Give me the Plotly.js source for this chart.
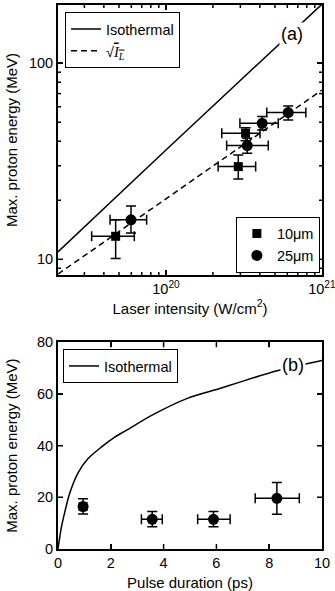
<!DOCTYPE html>
<html><head><meta charset="utf-8">
<script src="https://cdn.plot.ly/plotly-3.0.1.min.js"></script>
<style>html,body{margin:0;padding:0;background:#fff}#chart{width:335px;height:591px}</style>
</head><body><div id="chart"></div>
<script>
// ---------- Panel (a): energy vs laser intensity ----------
const sqI       = [4.76e19, 2.91e20, 3.24e20];
const sqIplus   = [1.51e19, 0.85e20, 0.77e20];
const sqIminus  = [1.42e19, 0.75e20, 0.96e20];
const sqE       = [13.1, 29.7, 44.0];
const sqEplus   = [2.8, 4.3, 2.9];
const sqEminus  = [3.0, 4.0, 3.8];

const ciI       = [5.97e19, 3.32e20, 4.14e20, 6.08e20];
const ciIplus   = [1.55e19, 1.21e20, 1.11e20, 1.81e20];
const ciIminus  = [1.59e19, 0.87e20, 1.16e20, 1.65e20];
const ciE       = [15.9, 38.0, 49.4, 56.0];
const ciEplus   = [2.8, 3.4, 4.1, 4.5];
const ciEminus  = [2.3, 3.3, 3.7, 4.6];

const isoAx = [2.03e19, 1e20, 1e21];
const isoAy = [10.9, 36.1, 200];
const sqrtAx = [2.03e19, 1e21];
const sqrtAy = [8.4, 73];

const xTickValsA = [1e20, 1e21];
const xTickTextA = ['10<sup>20</sup>', '10<sup>21</sup>'];
const xMinorA = [3e19,4e19,5e19,6e19,7e19,8e19,9e19,2e20,3e20,4e20,5e20,6e20,7e20,8e20,9e20];
const yTickValsA = [10, 100];
const yTickTextA = ['10', '100'];
const yMinorA = [9,20,30,40,50,60,70,80,90];

// ---------- Panel (b): energy vs pulse duration ----------
const tau       = [0.95, 3.57, 5.89, 8.29];
const tauPlus   = [0, 0.38, 0.63, 0.85];
const tauMinus  = [0, 0.41, 0.60, 0.82];
const eB        = [16.4, 11.5, 11.5, 19.6];
const eBplus    = [3.0, 3.0, 3.0, 6.1];
const eBminus   = [2.9, 2.9, 2.9, 6.2];

const isoBx = [0, 0.03, 0.13, 0.25, 0.44, 0.76, 1.14, 1.65, 2.15, 2.6, 3.6, 4.9, 6.1, 6.8, 8.3, 10];
const isoBy = [0, 2.2, 8.5, 14, 21.5, 29.5, 35, 39.5, 43.3, 46, 52, 58.3, 62, 64.3, 69, 73];
const xTickValsB = [2, 4, 6, 8];
const yTickValsB = [20, 40, 60];

const FONT = 'Liberation Sans, Arial, Helvetica, sans-serif';
const BLK = '#000';
const errStyle = {color: BLK, thickness: 1.5, width: 5};
const X_RANGE_A = [19.308, 21.0005];
const Y_RANGE_A = [0.92, 2.297];

const traces = [
  {x: isoAx, y: isoAy, xaxis: 'x', yaxis: 'y', mode: 'lines', name: 'Isothermal',
   line: {color: BLK, width: 1.5}, legend: 'legend'},
  {x: sqrtAx, y: sqrtAy, xaxis: 'x', yaxis: 'y', mode: 'lines',
   name: '√<span style="font-family:Liberation Serif;font-style:italic;text-decoration:overline">I<sub>L</sub></span>',
   line: {color: BLK, width: 1.5, dash: '6px,4px'}, legend: 'legend'},
  {x: sqI, y: sqE, xaxis: 'x', yaxis: 'y', mode: 'markers', name: '10μm', legend: 'legend2',
   marker: {symbol: 'square', size: 9, color: BLK},
   error_x: Object.assign({type: 'data', symmetric: false, array: sqIplus, arrayminus: sqIminus}, errStyle),
   error_y: Object.assign({type: 'data', symmetric: false, array: sqEplus, arrayminus: sqEminus}, errStyle)},
  {x: ciI, y: ciE, xaxis: 'x', yaxis: 'y', mode: 'markers', name: '25μm', legend: 'legend2',
   marker: {symbol: 'circle', size: 11, color: BLK},
   error_x: Object.assign({type: 'data', symmetric: false, array: ciIplus, arrayminus: ciIminus}, errStyle),
   error_y: Object.assign({type: 'data', symmetric: false, array: ciEplus, arrayminus: ciEminus}, errStyle)},

  {x: isoBx, y: isoBy, xaxis: 'x2', yaxis: 'y2', mode: 'lines', name: 'Isothermal', legend: 'legend3',
   line: {color: BLK, width: 1.5, shape: 'spline', smoothing: 0.8}},
  {x: tau, y: eB, xaxis: 'x2', yaxis: 'y2', mode: 'markers', showlegend: false,
   marker: {symbol: 'circle', size: 11, color: BLK},
   error_x: Object.assign({type: 'data', symmetric: false, array: tauPlus, arrayminus: tauMinus}, errStyle),
   error_y: Object.assign({type: 'data', symmetric: false, array: eBplus, arrayminus: eBminus}, errStyle)},
  {x: tau.slice(0,1), y: eB.slice(0,1), xaxis: 'x2', yaxis: 'y2', mode: 'markers', showlegend: false,
   marker: {symbol: 'square', size: 9, color: BLK}}
];

// inside tick marks on all four sides, built from the tick arrays
const tickLine = {type: 'line', line: {color: BLK, width: 1.5}, layer: 'above'};
function xTicks(xref, yaxisName, positions, len) {
  const out = [];
  positions.forEach(p => {
    out.push(Object.assign({}, tickLine, {xref: xref, x0: p, x1: p, yref: yaxisName + ' domain', ysizemode: 'pixel', yanchor: 0, y0: 0, y1: len}));
    out.push(Object.assign({}, tickLine, {xref: xref, x0: p, x1: p, yref: yaxisName + ' domain', ysizemode: 'pixel', yanchor: 1, y0: 0, y1: -len}));
  });
  return out;
}
function yTicks(yref, xaxisName, positions, len) {
  const out = [];
  positions.forEach(p => {
    out.push(Object.assign({}, tickLine, {yref: yref, y0: p, y1: p, xref: xaxisName + ' domain', xsizemode: 'pixel', xanchor: 0, x0: 0, x1: len}));
    out.push(Object.assign({}, tickLine, {yref: yref, y0: p, y1: p, xref: xaxisName + ' domain', xsizemode: 'pixel', xanchor: 1, x0: 0, x1: -len}));
  });
  return out;
}
const fracX = v => (Math.log10(v) - X_RANGE_A[0]) / (X_RANGE_A[1] - X_RANGE_A[0]);
const fracY = v => (Math.log10(v) - Y_RANGE_A[0]) / (Y_RANGE_A[1] - Y_RANGE_A[0]);
const shapes = [].concat(
  xTicks('x domain', 'y', [1e20].map(fracX), 5),
  xTicks('x domain', 'y', xMinorA.map(fracX), 3),
  yTicks('y domain', 'x', yTickValsA.map(fracY), 5),
  yTicks('y domain', 'x', yMinorA.map(fracY), 3),
  xTicks('x2', 'y2', xTickValsB, 5),
  yTicks('y2', 'x2', yTickValsB, 5)
);

const axisCommon = {
  showline: true, linewidth: 2, linecolor: BLK, mirror: 'ticks',
  ticks: 'inside', ticklen: 5, tickwidth: 1.5, tickcolor: BLK,
  showgrid: false, zeroline: false,
  tickfont: {family: FONT, size: 14.5, color: BLK}
};
const titleFont = {family: FONT, size: 15, color: BLK};

const layout = {
  width: 335, height: 591,
  margin: {l: 58, r: 13, t: 5, b: 42},
  paper_bgcolor: '#fff', plot_bgcolor: '#fff',
  font: {family: FONT, size: 14.5, color: BLK},
  xaxis: Object.assign({}, axisCommon, {
    type: 'log', domain: [0, 1], range: X_RANGE_A, anchor: 'y',
    tickmode: 'array', tickvals: xTickValsA, ticktext: xTickTextA, ticklabeloverflow: 'allow',
    title: {text: 'Laser intensity (W/cm<sup>2</sup>)', standoff: 3, font: titleFont}
  }),
  yaxis: Object.assign({}, axisCommon, {
    type: 'log', domain: [0.5037, 1], range: Y_RANGE_A, anchor: 'x',
    tickmode: 'array', tickvals: yTickValsA, ticktext: yTickTextA,
    title: {text: 'Max. proton energy (MeV)', font: titleFont}
  }),
  xaxis2: Object.assign({}, axisCommon, {
    domain: [0, 1], range: [0, 10], anchor: 'y2', dtick: 2, tick0: 0,
    title: {text: 'Pulse duration (ps)', font: titleFont}
  }),
  yaxis2: Object.assign({}, axisCommon, {
    domain: [0, 0.38], range: [0, 80], anchor: 'x2', dtick: 20, tick0: 0,
    title: {text: 'Max. proton energy (MeV)', font: titleFont}
  }),
  legend: {x: 0.0265, y: 0.987, xanchor: 'left', yanchor: 'top', bgcolor: '#fff',
    bordercolor: BLK, borderwidth: 1, font: {family: FONT, size: 14.5, color: BLK}},
  legend2: {x: 0.992, y: 0.508, xanchor: 'right', yanchor: 'bottom', bgcolor: '#fff',
    bordercolor: BLK, borderwidth: 1, font: {family: FONT, size: 14.5, color: BLK}},
  legend3: {x: 0.019, y: 0.3676, xanchor: 'left', yanchor: 'top', bgcolor: '#fff',
    bordercolor: BLK, borderwidth: 1, font: {family: FONT, size: 14.5, color: BLK}},
  shapes: shapes,
  annotations: [
    {text: '(a)', xref: 'paper', yref: 'paper', x: (292-58)/264, y: (549-34)/544,
     xanchor: 'center', yanchor: 'middle', showarrow: false, bgcolor: '#fff',
     font: {family: FONT, size: 18, color: BLK}},
    {text: '(b)', xref: 'paper', yref: 'paper', x: (293-58)/264, y: (549-365)/544,
     xanchor: 'center', yanchor: 'middle', showarrow: false, bgcolor: '#fff',
     font: {family: FONT, size: 18, color: BLK}}
  ],
  showlegend: true
};

Plotly.newPlot('chart', traces, layout, {displayModeBar: false, staticPlot: true});
</script>
</body></html>
